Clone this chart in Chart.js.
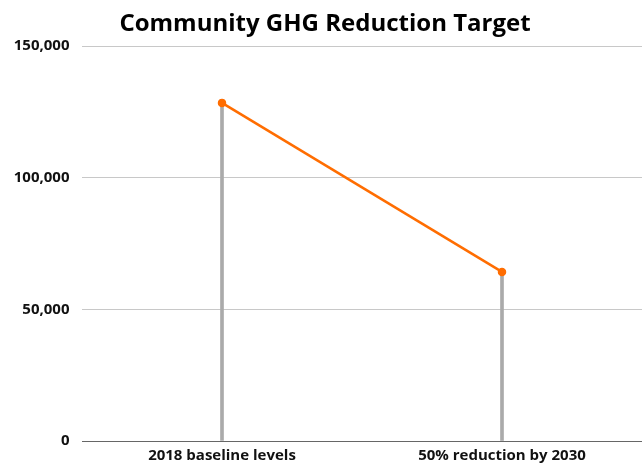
<!DOCTYPE html>
<html>
<head>
<meta charset="utf-8">
<script src="https://cdn.jsdelivr.net/npm/chart.js@4"></script>
<style>
  html, body { margin: 0; padding: 0; background: #fff; }
  #wrap { width: 642px; height: 465px; }
</style>
</head>
<body>
<div id="wrap"><canvas id="ghg-chart" width="642" height="465"></canvas></div>
<script>
// GHG emissions: baseline vs 2030 target
const categories = ['2018 baseline levels', '50% reduction by 2030'];
const emissions = [128400, 64200];
const yTicks = [0, 50000, 100000, 150000];

Chart.defaults.font.family = "'Open Sans', sans-serif";
Chart.defaults.color = '#222';

// drop the extra space scales reserve around their edge labels
function noScalePadding(scale) {
  scale.paddingLeft = 0;
  scale.paddingRight = 0;
  scale.paddingTop = 0;
  scale.paddingBottom = 0;
}

const ctx = document.getElementById('ghg-chart').getContext('2d');
new Chart(ctx, {
  type: 'bar',
  data: {
    labels: categories,
    datasets: [
      {
        type: 'line',
        data: emissions,
        borderColor: '#ff6d01',
        backgroundColor: '#ff6d01',
        borderWidth: 2.5,
        pointRadius: 3,
        tension: 0,
        order: 0
      },
      {
        type: 'bar',
        data: emissions,
        backgroundColor: '#aaaaaa',
        barThickness: 3,
        order: 1
      }
    ]
  },
  options: {
    responsive: false,
    animation: false,
    layout: { autoPadding: false, padding: { left: 8, right: 0, top: 0, bottom: 0 } },
    plugins: {
      legend: { display: false },
      tooltip: { enabled: false },
      title: {
        display: true,
        text: 'Community GHG Reduction Target',
        color: '#000',
        font: { size: 24, weight: 'bold' },
        padding: { top: 9.5, bottom: 7.7 }
      }
    },
    scales: {
      x: {
        afterFit: scale => {
          scale.height = 24;
          noScalePadding(scale);
        },
        grid: { display: false, drawTicks: false },
        border: { display: false },
        ticks: {
          color: '#111',
          font: { size: 15, weight: 'bold' },
          padding: 6
        }
      },
      y: {
        min: 0,
        max: 150000,
        afterBuildTicks: scale => {
          scale.ticks = yTicks.map(v => ({ value: v }));
        },
        afterFit: scale => {
          scale.width = 74;
          noScalePadding(scale);
        },
        grid: {
          drawTicks: false,
          color: c => (c.tick.value === 0 ? '#666' : '#c8c8c8'),
          lineWidth: 1
        },
        border: { display: false },
        ticks: {
          color: '#111',
          padding: 12.5,
          font: { size: 15, weight: 'bold' },
          callback: v => v.toLocaleString('en-US')
        }
      }
    }
  }
});
</script>
</body>
</html>
